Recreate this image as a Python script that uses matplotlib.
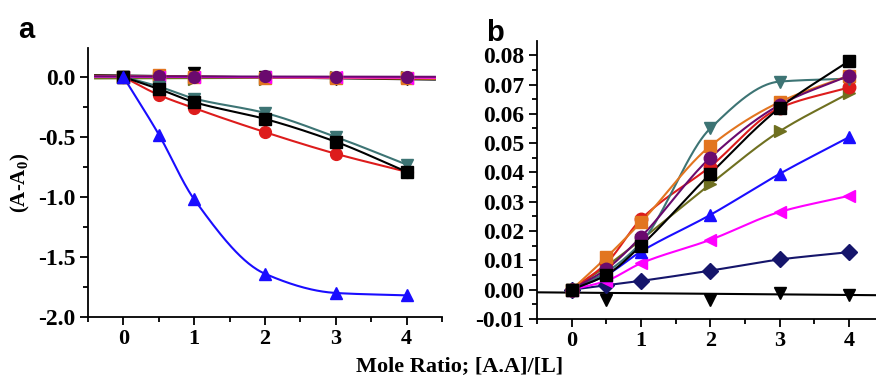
import matplotlib
matplotlib.use("Agg")
import matplotlib.pyplot as plt
from matplotlib.ticker import MultipleLocator
import numpy as np

# mole ratio values
x = [0, 0.5, 1, 2, 3, 4]

# panel a, series that drop
a_blue = [0, -0.48, -1.02, -1.64, -1.80, -1.82]
a_red = [0, -0.15, -0.26, -0.46, -0.64, -0.79]
a_black = [0, -0.10, -0.21, -0.35, -0.54, -0.79]
a_teal = [0, -0.08, -0.18, -0.30, -0.50, -0.73]
# panel a, series that stay flat
a_purple = [0, 0.01, 0.0, 0.01, 0.0, 0.0]
a_orange = [0, 0.02, 0.0, -0.01, -0.01, -0.01]
a_olive = [0, -0.01, -0.02, -0.02, 0.0, 0.0]
a_tri_down = [0, 0.0, 0.03, 0.0, -0.02, -0.02]
a_magenta = [0, 0.0, 0.0, 0.0, 0.0, -0.01]

# panel b
b_black = [0, 0.005, 0.015, 0.0395, 0.062, 0.078]
b_teal = [0, 0.006, 0.016, 0.055, 0.071, 0.072]
b_orange = [0, 0.011, 0.023, 0.049, 0.064, 0.073]
b_red = [0, 0.009, 0.024, 0.042, 0.062, 0.069]
b_purple = [0, 0.007, 0.018, 0.045, 0.063, 0.073]
b_olive = [0, 0.008, 0.017, 0.036, 0.054, 0.067]
b_blue = [0, 0.005, 0.013, 0.0255, 0.0395, 0.052]
b_magenta = [0, 0.003, 0.009, 0.017, 0.0265, 0.032]
b_navy = [0, 0.0015, 0.003, 0.0065, 0.0103, 0.0128]
b_tri_x = [0, 0.5, 2, 3, 4]
b_tri_down = [0, -0.0035, -0.0035, -0.0012, -0.0017]
b_tri_fit = (-0.001, -0.0002)  # intercept, slope of the straight line

BLUE = "#1a0dff"
RED = "#dd1c1c"
BLACK = "#000000"
TEAL = "#3d7474"
PURPLE = "#6a0a6e"
ORANGE = "#e27520"
OLIVE = "#6f7020"
MAGENTA = "#ff00ff"
NAVY = "#15156b"


def smooth(xs, ys, n=200):
    """monotone cubic curve through the points (pchip)"""
    xs = np.asarray(xs, float)
    ys = np.asarray(ys, float)
    h = np.diff(xs)
    d = np.diff(ys) / h
    m = np.zeros_like(ys)
    for k in range(1, len(xs) - 1):
        if d[k - 1] * d[k] > 0:
            w1 = 2 * h[k] + h[k - 1]
            w2 = h[k] + 2 * h[k - 1]
            m[k] = (w1 + w2) / (w1 / d[k - 1] + w2 / d[k])
    m[0] = d[0]
    m[-1] = d[-1]
    xx = np.linspace(xs[0], xs[-1], n)
    idx = np.clip(np.searchsorted(xs, xx) - 1, 0, len(xs) - 2)
    t = (xx - xs[idx]) / h[idx]
    h00 = 2 * t**3 - 3 * t**2 + 1
    h10 = t**3 - 2 * t**2 + t
    h01 = -2 * t**3 + 3 * t**2
    h11 = t**3 - t**2
    yy = (h00 * ys[idx] + h10 * h[idx] * m[idx] + h01 * ys[idx + 1]
          + h11 * h[idx] * m[idx + 1])
    return xx, yy


def curve(ax, xs, ys, color, marker, ms=8.5):
    xx, yy = smooth(xs, ys)
    ax.plot(xx, yy, color=color, lw=1.5, zorder=2)
    ax.plot(xs, ys, linestyle="none", marker=marker, color=color,
            ms=ms, zorder=3)


def flat(ax, xs, ys, color, marker, ms=8.5):
    slope, icpt = np.polyfit(xs, ys, 1)
    xx = np.array([-0.4, 4.4])
    ax.plot(xx, icpt + slope * xx, color=color, lw=1.5, zorder=2)
    ax.plot(xs, ys, linestyle="none", marker=marker, color=color,
            ms=ms, zorder=3)


plt.rcParams["font.family"] = "Liberation Serif"
plt.rcParams["font.weight"] = "bold"

fig = plt.figure(figsize=(8.76, 3.76), dpi=100)
ax1 = fig.add_axes([0.1005, 0.157, 0.404, 0.715])
ax2 = fig.add_axes([0.613, 0.1516, 0.3955, 0.739])

# ---- panel a ----
flat(ax1, x, a_tri_down, BLACK, "v")
flat(ax1, x, a_olive, OLIVE, ">")
flat(ax1, x, a_orange, ORANGE, "s")
flat(ax1, x, a_magenta, MAGENTA, "<")
flat(ax1, x, a_purple, PURPLE, "o")
curve(ax1, x, a_teal, TEAL, "v")
curve(ax1, x, a_red, RED, "o")
curve(ax1, x, a_black, BLACK, "s")
curve(ax1, x, a_blue, BLUE, "^")

ax1.set_xlim(-0.5, 4.5)
ax1.set_ylim(-2.0, 0.24)
ax1.xaxis.set_major_locator(MultipleLocator(1))
ax1.xaxis.set_minor_locator(MultipleLocator(0.5))
ax1.yaxis.set_major_locator(MultipleLocator(0.5))
ax1.yaxis.set_minor_locator(MultipleLocator(0.25))
ax1.set_ylabel("(A-A$_\\mathregular{0}$)", fontsize=15, fontweight="bold",
               labelpad=4)
ax1.tick_params(axis="x", labelsize=16)
ax1.tick_params(axis="y", labelsize=17)
ax1.yaxis.set_major_formatter(plt.FuncFormatter(lambda v, p: f"{v:.1f}"))

# ---- panel b ----
ax2.axline((0, b_tri_fit[0]), slope=b_tri_fit[1], color=BLACK, lw=1.5,
           zorder=2)
ax2.plot(b_tri_x, b_tri_down, linestyle="none", marker="v", color=BLACK,
         ms=9, zorder=3)
curve(ax2, x, b_navy, NAVY, "D")
curve(ax2, x, b_magenta, MAGENTA, "<", 9)
curve(ax2, x, b_blue, BLUE, "^", 9)
curve(ax2, x, b_olive, OLIVE, ">", 9)
curve(ax2, x, b_red, RED, "o", 9)
curve(ax2, x, b_teal, TEAL, "v", 9)
curve(ax2, x, b_orange, ORANGE, "s", 9)
curve(ax2, x, b_purple, PURPLE, "o", 9)
curve(ax2, x, b_black, BLACK, "s", 9)

ax2.set_xlim(-0.5, 4.5)
ax2.set_ylim(-0.01, 0.0848)
ax2.xaxis.set_major_locator(MultipleLocator(1))
ax2.xaxis.set_minor_locator(MultipleLocator(0.5))
ax2.yaxis.set_major_locator(MultipleLocator(0.01))
ax2.yaxis.set_minor_locator(MultipleLocator(0.005))
ax2.tick_params(axis="x", labelsize=16)
ax2.tick_params(axis="y", labelsize=17)
ax2.yaxis.set_major_formatter(plt.FuncFormatter(lambda v, p: f"{v:.2f}"))

for ax in (ax1, ax2):
    ax.spines["top"].set_visible(False)
    ax.spines["right"].set_visible(False)
    ax.spines["left"].set_linewidth(1.3)
    ax.spines["bottom"].set_linewidth(1.3)
    ax.tick_params(which="major", length=6, width=1.3, direction="out",
                   pad=3)
    ax.tick_params(which="minor", length=3.5, width=1.3, direction="out")

fig.text(0.0205, 0.9, "a", fontsize=21, fontweight="bold",
         family="Liberation Sans")
fig.text(0.555, 0.89, "b", fontsize=21, fontweight="bold",
         family="Liberation Sans")
fig.text(0.525, 0.027, "Mole Ratio; [A.A]/[L]", fontsize=16,
         fontweight="bold", ha="center", va="center")

fig.savefig("out.png", dpi=100)
